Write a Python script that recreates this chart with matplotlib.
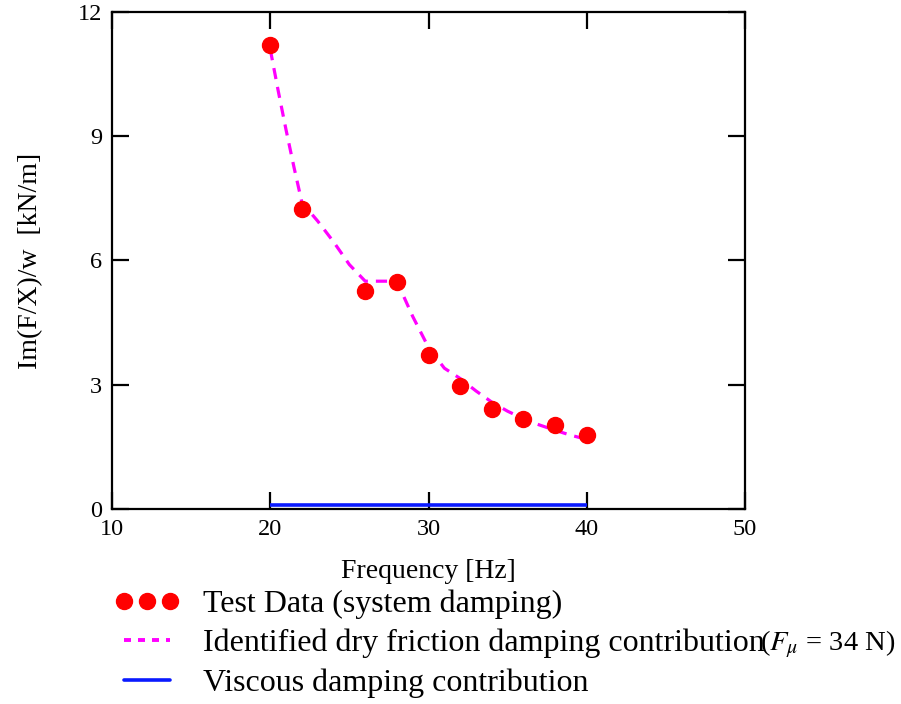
import matplotlib.pyplot as plt
from matplotlib.lines import Line2D

plt.rcParams['font.family'] = 'Liberation Serif'
plt.rcParams['mathtext.fontset'] = 'stix'

# test data (system damping)
freq_test = [20, 22, 26, 28, 30, 32, 34, 36, 38, 40]
im_test = [11.2, 7.25, 5.27, 5.47, 3.72, 2.96, 2.42, 2.17, 2.02, 1.78]

# identified dry friction contribution
freq_fric = [20, 20.5, 21, 21.5, 22, 23, 24, 25, 26, 27, 28, 29, 30, 31, 32, 33, 34, 35, 36, 37, 38, 39, 40]
im_fric = [11.1, 10.1, 9.15, 8.25, 7.4, 6.95, 6.45, 5.9, 5.5, 5.5, 5.5, 4.65, 3.9, 3.4, 3.15,
           2.85, 2.58, 2.36, 2.18, 2.03, 1.9, 1.78, 1.68]

# viscous contribution
freq_visc = [20, 40]
im_visc = [0.1, 0.1]

fig = plt.figure(figsize=(9.01, 7.04), dpi=100)
ax = fig.add_axes([0.1243, 0.277, 0.7026, 0.706])

ax.plot(freq_visc, im_visc, color='#0a1aff', lw=2.6, solid_capstyle='butt')
ax.plot(freq_fric, im_fric, color='magenta', lw=2.3, dashes=(3.5, 2.5))
ax.plot(freq_test, im_test, 'o', color='red', ms=11.5, mec='red')

ax.set_xlim(10, 50)
ax.set_ylim(0, 12)
ax.set_xticks([10, 20, 30, 40, 50])
ax.set_yticks([0, 3, 6, 9, 12])
ax.tick_params(direction='in', length=12, width=1.6, top=True, right=True,
               labelsize=17.5, pad=7)
for s in ax.spines.values():
    s.set_linewidth(1.6)

ax.set_xlabel('Frequency [Hz]', fontsize=20, labelpad=14)
ax.set_ylabel('Im(F/X)/w  [kN/m]', fontsize=20, labelpad=25)

handles = [
    Line2D([], [], ls='none', marker='o', color='red', ms=11.5),
    Line2D([], [], color='magenta', lw=2.8, dashes=(1.8, 1.8)),
    Line2D([], [], color='#0a1aff', lw=2.6, solid_capstyle='round'),
]
labels = ['Test Data (system damping)',
          'Identified dry friction damping contribution',
          'Viscous damping contribution']
fig.legend(handles, labels, loc='upper left', bbox_to_anchor=(0.127, 0.163),
           frameon=False, fontsize=23, numpoints=3, handlelength=2.05,
           handletextpad=0.72, labelspacing=0.32, borderaxespad=0, borderpad=0)
fig.text(0.843, 0.085, r'($F_\mu$ = 34 N)', fontsize=20.5, va='center', ha='left')

fig.savefig('out.png', dpi=100)
